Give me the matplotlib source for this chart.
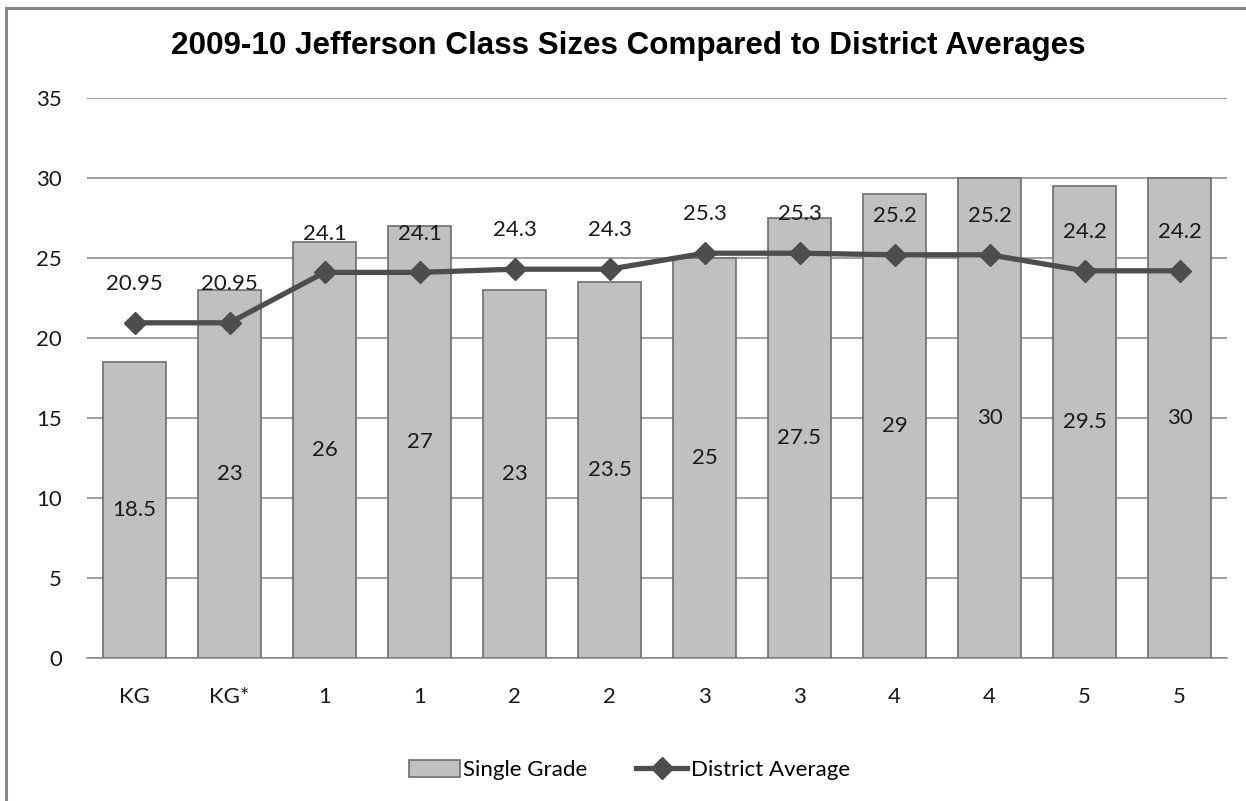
import matplotlib
matplotlib.use("Agg")
import matplotlib.pyplot as plt
from matplotlib.patches import Rectangle
import numpy as np

# chart data
grades = ['KG', 'KG*', '1', '1', '2', '2', '3', '3', '4', '4', '5', '5']
single_grade = [18.5, 23, 26, 27, 23, 23.5, 25, 27.5, 29, 30, 29.5, 30]
district_avg = [20.95, 20.95, 24.1, 24.1, 24.3, 24.3, 25.3, 25.3, 25.2, 25.2, 24.2, 24.2]
single_labels = ['18.5', '23', '26', '27', '23', '23.5', '25', '27.5', '29', '30', '29.5', '30']
district_labels = ['20.95', '20.95', '24.1', '24.1', '24.3', '24.3', '25.3', '25.3', '25.2', '25.2', '24.2', '24.2']
y_ticks = [0, 5, 10, 15, 20, 25, 30, 35]

label_font = 'Lato'
label_size = 16
text_color = '#1a1a1a'

fig = plt.figure(figsize=(12.46, 8.01), dpi=100)
ax = fig.add_axes([87 / 1246, 1 - 658 / 801, 1140 / 1246, 560 / 801])

# outer chart border (runs off the right and bottom edges)
fig.patches.append(Rectangle((6 / 1246, -0.1), 1.2, 1 - 8 / 801 + 0.1,
                             transform=fig.transFigure, fill=False,
                             edgecolor='#868686', linewidth=2.2, zorder=0))

x = np.arange(len(grades))
bars = ax.bar(x, single_grade, width=0.67, color='#c0c0c0', edgecolor='#6e6e6e',
              linewidth=1.2, label='Single Grade', zorder=2)
line, = ax.plot(x, district_avg, color='#4d4d4d', linewidth=3.8, marker='D',
                markersize=11, label='District Average', zorder=3)

# value labels: centred in the bars, above the markers
for xi, v, t in zip(x, single_grade, single_labels):
    ax.text(xi, v / 2, t, ha='center', va='center', fontsize=label_size,
            family=label_font, color=text_color, zorder=4)
for xi, v, t in zip(x, district_avg, district_labels):
    ax.annotate(t, xy=(xi, v), xytext=(0, 28), textcoords='offset points',
                ha='center', va='center', fontsize=label_size, family=label_font,
                color=text_color, zorder=4)

ax.set_xlim(-0.5, len(grades) - 0.5)
ax.set_ylim(0, 35)
ax.set_yticks(y_ticks)
ax.set_xticks(x)
ax.set_xticklabels(grades)
ax.yaxis.grid(True, color='#868686', linewidth=1.1)
ax.set_axisbelow(True)
for s in ['top', 'right', 'left']:
    ax.spines[s].set_visible(False)
ax.spines['bottom'].set_color('#868686')
ax.spines['bottom'].set_linewidth(1.1)
ax.spines['bottom'].set_zorder(1)
ax.tick_params(axis='both', length=0, labelsize=label_size, labelcolor=text_color)
ax.tick_params(axis='y', pad=18)
ax.tick_params(axis='x', pad=21)
for lbl in ax.get_xticklabels() + ax.get_yticklabels():
    lbl.set_family(label_font)

fig.text(0.504, 1 - 46 / 801, '2009-10 Jefferson Class Sizes Compared to District Averages',
         ha='center', va='center', fontsize=22.6, fontweight='bold',
         family='Liberation Sans', color='black')

fig.legend(handles=[bars, line], loc='center', bbox_to_anchor=(0.505, 1 - 770 / 801),
           ncol=2, frameon=False, prop={'family': label_font, 'size': label_size},
           handlelength=2.3, handleheight=0.8, handletextpad=0.15, columnspacing=2.2)

fig.savefig('out.png', dpi=100, facecolor='white')
plt.close(fig)
